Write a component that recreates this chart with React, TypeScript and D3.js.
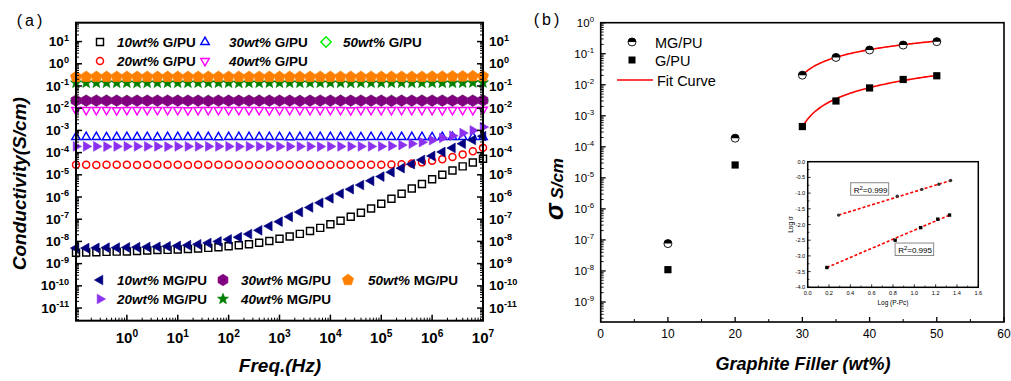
import React from 'react';
import * as d3 from 'd3';

const W = 1011, H = 381;
const FONT = "'Liberation Sans', Arial, Helvetica, sans-serif";

// ---------------- Panel (a) data : log10(frequency) and log10(conductivity) ----------------
const logFreq = [-1.0,-0.8,-0.6,-0.4,-0.2,0.0,0.2,0.4,0.6,0.8,1.0,1.2,1.4,1.6,1.8,2.0,2.2,2.4,2.6,2.8,3.0,3.2,3.4,3.6,3.8,4.0,4.2,4.4,4.6,4.8,5.0,5.2,5.4,5.6,5.8,6.0,6.2,6.4,6.6,6.8,7.0];

const gpu10 = [-8.51,-8.50,-8.49,-8.47,-8.46,-8.45,-8.43,-8.41,-8.39,-8.38,-8.36,-8.34,-8.32,-8.29,-8.26,-8.22,-8.17,-8.13,-8.06,-7.98,-7.88,-7.78,-7.66,-7.53,-7.39,-7.23,-7.07,-6.89,-6.71,-6.52,-6.30,-6.08,-5.85,-5.62,-5.41,-5.20,-5.00,-4.81,-4.62,-4.45,-4.28];
const gpu20 = [-4.55,-4.55,-4.56,-4.55,-4.55,-4.55,-4.56,-4.55,-4.55,-4.55,-4.55,-4.56,-4.55,-4.55,-4.55,-4.55,-4.55,-4.56,-4.55,-4.55,-4.55,-4.55,-4.55,-4.55,-4.56,-4.55,-4.55,-4.55,-4.55,-4.55,-4.55,-4.54,-4.52,-4.49,-4.44,-4.37,-4.30,-4.20,-4.08,-3.94,-3.78];
const gpu30 = [-3.30,-3.30,-3.30,-3.31,-3.30,-3.30,-3.30,-3.30,-3.31,-3.30,-3.30,-3.30,-3.30,-3.30,-3.31,-3.30,-3.30,-3.30,-3.30,-3.30,-3.30,-3.31,-3.30,-3.30,-3.30,-3.30,-3.30,-3.30,-3.31,-3.30,-3.30,-3.30,-3.30,-3.30,-3.30,-3.31,-3.30,-3.30,-3.30,-3.30,-3.30];
const gpu40 = [-2.08,-2.08,-2.08,-2.08,-2.09,-2.08,-2.08,-2.08,-2.08,-2.08,-2.08,-2.09,-2.08,-2.08,-2.08,-2.08,-2.08,-2.08,-2.08,-2.09,-2.08,-2.08,-2.08,-2.08,-2.08,-2.08,-2.08,-2.09,-2.08,-2.08,-2.08,-2.08,-2.08,-2.08,-2.08,-2.08,-2.09,-2.08,-2.08,-2.08,-2.07];
const gpu50 = [-1.66,-1.66,-1.66,-1.65,-1.66,-1.66,-1.66,-1.66,-1.66,-1.66,-1.65,-1.66,-1.66,-1.66,-1.66,-1.66,-1.66,-1.66,-1.65,-1.66,-1.66,-1.66,-1.66,-1.66,-1.66,-1.66,-1.65,-1.66,-1.66,-1.66,-1.66,-1.66,-1.66,-1.66,-1.65,-1.66,-1.66,-1.66,-1.66,-1.66,-1.65];
const mgpu10 = [-8.30,-8.30,-8.29,-8.28,-8.28,-8.27,-8.26,-8.25,-8.24,-8.22,-8.20,-8.17,-8.13,-8.07,-8.00,-7.91,-7.81,-7.67,-7.50,-7.31,-7.11,-6.89,-6.68,-6.47,-6.26,-6.06,-5.85,-5.65,-5.46,-5.27,-5.08,-4.88,-4.70,-4.52,-4.33,-4.15,-3.97,-3.79,-3.60,-3.43,-3.26];
const mgpu20 = [-3.72,-3.72,-3.72,-3.73,-3.72,-3.72,-3.72,-3.72,-3.72,-3.73,-3.72,-3.72,-3.72,-3.72,-3.72,-3.72,-3.73,-3.72,-3.72,-3.72,-3.72,-3.72,-3.72,-3.72,-3.73,-3.72,-3.72,-3.72,-3.72,-3.72,-3.72,-3.70,-3.66,-3.60,-3.53,-3.44,-3.34,-3.24,-3.12,-3.00,-2.85];
const mgpu30 = [-1.66,-1.66,-1.66,-1.66,-1.66,-1.67,-1.66,-1.66,-1.66,-1.66,-1.66,-1.66,-1.66,-1.67,-1.66,-1.66,-1.66,-1.66,-1.66,-1.66,-1.66,-1.66,-1.67,-1.66,-1.66,-1.66,-1.66,-1.66,-1.66,-1.66,-1.66,-1.67,-1.66,-1.66,-1.66,-1.66,-1.66,-1.66,-1.66,-1.66,-1.65];
const mgpu40 = [-0.86,-0.86,-0.86,-0.86,-0.86,-0.86,-0.87,-0.86,-0.86,-0.86,-0.86,-0.86,-0.86,-0.86,-0.86,-0.86,-0.87,-0.86,-0.86,-0.86,-0.86,-0.86,-0.86,-0.86,-0.86,-0.86,-0.86,-0.87,-0.86,-0.86,-0.86,-0.86,-0.86,-0.86,-0.86,-0.86,-0.86,-0.86,-0.86,-0.85,-0.85];
const mgpu50 = [-0.59,-0.59,-0.59,-0.59,-0.59,-0.59,-0.59,-0.59,-0.59,-0.59,-0.59,-0.59,-0.59,-0.59,-0.59,-0.59,-0.59,-0.59,-0.59,-0.59,-0.59,-0.59,-0.59,-0.59,-0.59,-0.59,-0.59,-0.59,-0.59,-0.59,-0.59,-0.59,-0.59,-0.59,-0.59,-0.58,-0.58,-0.57,-0.57,-0.56,-0.56];

const decadesA = [1, 0, -1, -2, -3, -4, -5, -6, -7, -8, -9, -10, -11];
const freqDecades = [0, 1, 2, 3, 4, 5, 6, 7];

// ---------------- Panel (b) data ----------------
const fillerWt = [10, 20, 30, 35, 40, 45, 50];
const sigmaMG = [7.6e-8, 1.9e-4, 0.0204, 0.0759, 0.132, 0.19, 0.245];
const sigmaG = [1.1e-8, 2.6e-5, 4.5e-4, 3.0e-3, 7.9e-3, 0.0148, 0.0195];
const fitMG = { pc: 28.05, logA: -2.0, t: 1.05 };
const fitG = { pc: 28.5, logA: -3.63, t: 1.45 };
const fitRange = [30, 50];
const decadesB = [0, -1, -2, -3, -4, -5, -6, -7, -8, -9];
const wtTicks = [0, 10, 20, 30, 40, 50, 60];

// inset: log(P-Pc) vs log sigma
const insetMGx = [0.29, 0.84, 1.07, 1.23, 1.34];
const insetMGy = [-1.70, -1.10, -0.88, -0.72, -0.60];
const insetGx = [0.18, 0.82, 1.06, 1.22, 1.33];
const insetGy = [-3.37, -2.50, -2.10, -1.83, -1.70];
const insetXTicks = [0.0, 0.2, 0.4, 0.6, 0.8, 1.0, 1.2, 1.4, 1.6];
const insetYTicks = [0.0, -0.5, -1.0, -1.5, -2.0, -2.5, -3.0, -3.5, -4.0];
const r2MG = '0.999';
const r2G = '0.995';

// ---------------- helpers ----------------
function regPoly(n: number, r: number, rot: number) {
  const pts: string[] = [];
  for (let i = 0; i < n; i++) {
    const a = rot + (i * 2 * Math.PI) / n;
    pts.push(`${(r * Math.cos(a)).toFixed(2)},${(r * Math.sin(a)).toFixed(2)}`);
  }
  return 'M' + pts.join('L') + 'Z';
}
function starPath(r: number, ri: number) {
  const pts: string[] = [];
  for (let i = 0; i < 10; i++) {
    const a = -Math.PI / 2 + (i * Math.PI) / 5;
    const rr = i % 2 === 0 ? r : ri;
    pts.push(`${(rr * Math.cos(a)).toFixed(2)},${(rr * Math.sin(a)).toFixed(2)}`);
  }
  return 'M' + pts.join('L') + 'Z';
}
const SHAPES: Record<string, string> = {
  square: 'M-3.5,-3.5H3.5V3.5H-3.5Z',
  triUp: regPoly(3, 4.9, -Math.PI / 2),
  triDown: regPoly(3, 4.9, Math.PI / 2),
  triLeft: regPoly(3, 5.6, Math.PI),
  triRight: regPoly(3, 5.6, 0),
  diamond: regPoly(4, 5.2, -Math.PI / 2),
  hexagon: regPoly(6, 5.7, -Math.PI / 2),
  pentagon: regPoly(5, 5.9, -Math.PI / 2),
  star: starPath(5.8, 2.5),
};

function Marker({ shape, x, y, color, filled }: any) {
  if (shape === 'circle') {
    return <circle cx={x} cy={y} r={3.5} fill="none" stroke={color} strokeWidth={1.5} />;
  }
  return (
    <path d={SHAPES[shape]} transform={`translate(${x},${y})`}
      fill={filled ? color : 'none'} stroke={color} strokeWidth={filled ? 0.6 : 1.45} strokeLinejoin="miter" />
  );
}

function Pow10({ x, y, exp, anchor, size, weight }: any) {
  return (
    <text x={x} y={y} textAnchor={anchor} fontSize={size} fontWeight={weight} fontFamily={FONT} fill="#000">
      10<tspan dy={-size * 0.42} fontSize={size * 0.68}>{exp}</tspan>
    </text>
  );
}

const seriesG = [
  { pct: '10wt%', name: 'G/PU', vals: gpu10, shape: 'square', color: '#000000', filled: false },
  { pct: '20wt%', name: 'G/PU', vals: gpu20, shape: 'circle', color: '#ff0000', filled: false },
  { pct: '30wt%', name: 'G/PU', vals: gpu30, shape: 'triUp', color: '#0000ff', filled: false },
  { pct: '40wt%', name: 'G/PU', vals: gpu40, shape: 'triDown', color: '#ff00ff', filled: false },
  { pct: '50wt%', name: 'G/PU', vals: gpu50, shape: 'diamond', color: '#00f000', filled: false },
];
const seriesMG = [
  { pct: '10wt%', name: 'MG/PU', vals: mgpu10, shape: 'triLeft', color: '#000080', filled: true },
  { pct: '20wt%', name: 'MG/PU', vals: mgpu20, shape: 'triRight', color: '#8c30f0', filled: true },
  { pct: '30wt%', name: 'MG/PU', vals: mgpu30, shape: 'hexagon', color: '#800080', filled: true },
  { pct: '40wt%', name: 'MG/PU', vals: mgpu40, shape: 'star', color: '#008000', filled: true },
  { pct: '50wt%', name: 'MG/PU', vals: mgpu50, shape: 'pentagon', color: '#ff8000', filled: true },
];

function PanelA() {
  const L = 76, R = 483, T = 22.7, B = 320.7;
  const x = d3.scaleLog().domain([0.1, 1e7]).range([L, R]);
  const y = d3.scaleLog().domain([Math.pow(10, -11.57), Math.pow(10, 1.85)]).range([B, T]);

  const yMinor: number[] = [];
  for (let d = -12; d <= 1; d++) for (let k = 2; k <= 9; k++) {
    const v = k * Math.pow(10, d);
    if (v > y.domain()[0] && v < y.domain()[1]) yMinor.push(v);
  }
  const xMinor: number[] = [];
  for (let d = -1; d <= 6; d++) for (let k = 2; k <= 9; k++) xMinor.push(k * Math.pow(10, d));

  const legendTop = [
    { s: seriesG[0], mx: 100, tx: 117, cy: 42 },
    { s: seriesG[1], mx: 100, tx: 117, cy: 61 },
    { s: seriesG[2], mx: 205, tx: 229, cy: 42 },
    { s: seriesG[3], mx: 205, tx: 229, cy: 61 },
    { s: seriesG[4], mx: 326, tx: 343, cy: 42 },
  ];
  const legendBot = [
    { s: seriesMG[0], mx: 100, tx: 117, cy: 280 },
    { s: seriesMG[1], mx: 100, tx: 117, cy: 299 },
    { s: seriesMG[2], mx: 223, tx: 241, cy: 280 },
    { s: seriesMG[3], mx: 223, tx: 241, cy: 299 },
    { s: seriesMG[4], mx: 348, tx: 368, cy: 280 },
  ];

  return (
    <g>
      {[...seriesG, ...seriesMG].map((s, si) => (
        <g key={si}>
          {s.vals.map((v, i) => (
            <Marker key={i} shape={s.shape} x={x(Math.pow(10, logFreq[i]))} y={y(Math.pow(10, v))} color={s.color} filled={s.filled} />
          ))}
        </g>
      ))}
      <rect x={L} y={T} width={R - L} height={B - T} fill="none" stroke="#000" strokeWidth={2} />
      {decadesA.map((d) => (
        <g key={'yt' + d}>
          <line x1={L} x2={L + 6} y1={y(Math.pow(10, d))} y2={y(Math.pow(10, d))} stroke="#000" strokeWidth={1.5} />
          <line x1={R} x2={R - 6} y1={y(Math.pow(10, d))} y2={y(Math.pow(10, d))} stroke="#000" strokeWidth={1.5} />
          <Pow10 x={69} y={y(Math.pow(10, d)) + 4.6} exp={String(d)} anchor="end" size={13.5} weight="bold" />
          <Pow10 x={489} y={y(Math.pow(10, d)) + 4.6} exp={String(d)} anchor="start" size={13.5} weight="bold" />
        </g>
      ))}
      {yMinor.map((v, i) => (
        <g key={'ym' + i}>
          <line x1={L} x2={L + 3} y1={y(v)} y2={y(v)} stroke="#000" strokeWidth={1} />
          <line x1={R} x2={R - 3} y1={y(v)} y2={y(v)} stroke="#000" strokeWidth={1} />
        </g>
      ))}
      {freqDecades.map((d) => (
        <g key={'xt' + d}>
          <line x1={x(Math.pow(10, d))} x2={x(Math.pow(10, d))} y1={B} y2={B - 6} stroke="#000" strokeWidth={1.5} />
          <Pow10 x={x(Math.pow(10, d))} y={343} exp={String(d)} anchor="middle" size={15} weight="bold" />
        </g>
      ))}
      {xMinor.map((v, i) => (
        <line key={'xm' + i} x1={x(v)} x2={x(v)} y1={B} y2={B - 3} stroke="#000" strokeWidth={1} />
      ))}
      {[...legendTop, ...legendBot].map((it, i) => (
        <g key={'lg' + i}>
          <Marker shape={it.s.shape} x={it.mx} y={it.cy} color={it.s.color} filled={it.s.filled} />
          <text x={it.tx} y={it.cy + 4.7} fontSize={13.5} fontWeight="bold" fontFamily={FONT}>
            <tspan fontStyle="italic">{it.s.pct}</tspan> {it.s.name}
          </text>
        </g>
      ))}
      <text x={280} y={372} textAnchor="middle" fontSize={19} fontWeight="bold" fontStyle="italic" fontFamily={FONT}>Freq.(Hz)</text>
      <text transform={`translate(26,${(T + B) / 2 + 12}) rotate(-90)`} textAnchor="middle" fontSize={19} fontWeight="bold" fontStyle="italic" fontFamily={FONT}>Conductivity(S/cm)</text>
      <text x={31} y={26} textAnchor="middle" fontSize={16} fontFamily={FONT} letterSpacing={3}>(a)</text>
    </g>
  );
}

function HalfCircle({ x, y, r }: any) {
  return (
    <g transform={`translate(${x},${y})`}>
      <circle r={r} fill="#fff" stroke="#000" strokeWidth={0.9} />
      <path d={`M${-r},0A${r},${r} 0 0 1 ${r},0Z`} fill="#000" />
    </g>
  );
}

function PanelB() {
  const L = 600.7, R = 1004, T = 22.7, B = 322;
  const x = d3.scaleLinear().domain([0, 60]).range([L, R]);
  const y = d3.scaleLog().domain([Math.pow(10, -9.645), 1]).range([B, T]);
  const yMinor: number[] = [];
  for (let d = -10; d <= -1; d++) for (let k = 2; k <= 9; k++) {
    const v = k * Math.pow(10, d);
    if (v > y.domain()[0] && v < 1) yMinor.push(v);
  }
  const fitPts = d3.range(fitRange[0], fitRange[1] + 0.001, 0.2);
  const fitLine = (f: any) => d3.line<number>()
    .x((p) => x(p))
    .y((p) => y(Math.pow(10, f.logA + f.t * Math.log10(p - f.pc))))(fitPts) as string;

  const iL = 807.7, iR = 978.3, iT = 161.7, iB = 287.3;
  const ix = d3.scaleLinear().domain([0, 1.6]).range([iL, iR]);
  const iy = d3.scaleLinear().domain([-4, 0]).range([iB, iT]);
  const insetLine = (xs: number[], ys: number[]) => {
    const n = xs.length;
    const slope = (ys[n - 1] - ys[0]) / (xs[n - 1] - xs[0]);
    return d3.line<number>().x((v) => ix(v)).y((v) => iy(ys[0] + slope * (v - xs[0])))([xs[0], xs[n - 1]]) as string;
  };
  const fsz = 5.6;

  return (
    <g>
      <path d={fitLine(fitMG)} fill="none" stroke="#ff0000" strokeWidth={1.6} />
      <path d={fitLine(fitG)} fill="none" stroke="#ff0000" strokeWidth={1.6} />
      {fillerWt.map((p, i) => (
        <g key={'p' + i}>
          <HalfCircle x={x(p)} y={y(sigmaMG[i])} r={4} />
          <rect x={x(p) - 3.6} y={y(sigmaG[i]) - 3.6} width={7.2} height={7.2} fill="#000" />
        </g>
      ))}
      <rect x={L} y={T} width={R - L} height={B - T} fill="none" stroke="#000" strokeWidth={1.6} />
      {decadesB.map((d) => (
        <g key={'by' + d}>
          <line x1={L} x2={L + 5} y1={y(Math.pow(10, d))} y2={y(Math.pow(10, d))} stroke="#000" strokeWidth={1.3} />
          <Pow10 x={594} y={y(Math.pow(10, d)) + 4} exp={String(d)} anchor="end" size={11.5} weight="normal" />
        </g>
      ))}
      {yMinor.map((v, i) => (
        <line key={'bym' + i} x1={L} x2={L + 3} y1={y(v)} y2={y(v)} stroke="#000" strokeWidth={0.9} />
      ))}
      {wtTicks.map((t) => (
        <g key={'bx' + t}>
          <line x1={x(t)} x2={x(t)} y1={B} y2={B - 5} stroke="#000" strokeWidth={1.3} />
          <text x={x(t)} y={338} textAnchor="middle" fontSize={12} fontFamily={FONT}>{t}</text>
        </g>
      ))}
      {wtTicks.slice(0, -1).map((t) => (
        <line key={'bxm' + t} x1={x(t + 5)} x2={x(t + 5)} y1={B} y2={B - 3} stroke="#000" strokeWidth={1} />
      ))}
      <HalfCircle x={632} y={42} r={4} />
      <text x={655} y={47.5} fontSize={14.5} fontFamily={FONT}>MG/PU</text>
      <rect x={628.5} y={56.5} width={7} height={7} fill="#000" />
      <text x={655} y={65.5} fontSize={14.5} fontFamily={FONT}>G/PU</text>
      <line x1={617} x2={653} y1={80} y2={80} stroke="#ff0000" strokeWidth={1.6} />
      <text x={657} y={85.5} fontSize={14.5} fontFamily={FONT}>Fit Curve</text>
      <text x={803} y={370} textAnchor="middle" fontSize={18} fontWeight="bold" fontStyle="italic" fontFamily={FONT}>Graphite Filler (wt%)</text>
      <text transform={`translate(563,189) rotate(-90)`} textAnchor="middle" fontWeight="bold" fontStyle="italic" fontFamily={FONT}>
        <tspan fontSize={25}>σ</tspan><tspan fontSize={17}> S/cm</tspan>
      </text>
      <text x={548} y={25} textAnchor="middle" fontSize={16} fontFamily={FONT} letterSpacing={3}>(b)</text>

      <rect x={iL} y={iT} width={iR - iL} height={iB - iT} fill="#fff" stroke="#000" strokeWidth={1.5} />
      {insetXTicks.map((t, i) => (
        <g key={'ix' + i}>
          <line x1={ix(t)} x2={ix(t)} y1={iB} y2={iB - 3} stroke="#000" strokeWidth={0.8} />
          <text x={ix(t)} y={iB + 7.5} textAnchor="middle" fontSize={fsz} fontFamily={FONT}>{t.toFixed(1)}</text>
        </g>
      ))}
      {insetXTicks.slice(0, -1).map((t, i) => (
        <line key={'ixm' + i} x1={ix(t + 0.1)} x2={ix(t + 0.1)} y1={iB} y2={iB - 1.8} stroke="#000" strokeWidth={0.7} />
      ))}
      {insetYTicks.map((t, i) => (
        <g key={'iy' + i}>
          <line x1={iL} x2={iL + 3} y1={iy(t)} y2={iy(t)} stroke="#000" strokeWidth={0.8} />
          <text x={iL - 2.5} y={iy(t) + 2} textAnchor="end" fontSize={fsz} fontFamily={FONT}>{t.toFixed(1)}</text>
        </g>
      ))}
      {insetYTicks.slice(0, -1).map((t, i) => (
        <line key={'iym' + i} x1={iL} x2={iL + 1.8} y1={iy(t - 0.25)} y2={iy(t - 0.25)} stroke="#000" strokeWidth={0.7} />
      ))}
      <text x={(iL + iR) / 2} y={iB + 18} textAnchor="middle" fontSize={6.5} fontFamily={FONT}>Log (P-Pc)</text>
      <text transform={`translate(${iL - 15},${(iT + iB) / 2}) rotate(-90)`} textAnchor="middle" fontSize={6.5} fontFamily={FONT}>Log σ</text>
      <path d={insetLine(insetMGx, insetMGy)} fill="none" stroke="#ff0000" strokeWidth={1.6} strokeDasharray="3,2" />
      <path d={insetLine(insetGx, insetGy)} fill="none" stroke="#ff0000" strokeWidth={1.6} strokeDasharray="3,2" />
      {insetMGx.map((v, i) => (
        <circle key={'imc' + i} cx={ix(v)} cy={iy(insetMGy[i])} r={1.7} fill="#333" />
      ))}
      {insetGx.map((v, i) => (
        <rect key={'igr' + i} x={ix(v) - 1.7} y={iy(insetGy[i]) - 1.7} width={3.4} height={3.4} fill="#000" />
      ))}
      <rect x={ix(0.403)} y={iy(-0.67)} width={38} height={12.5} fill="#fff" stroke="#888" strokeWidth={1} />
      <text x={ix(0.403) + 3} y={iy(-0.67) + 10} fontSize={8} fontFamily={FONT}>R<tspan dy={-3} fontSize={6}>2</tspan><tspan dy={3}>={r2MG}</tspan></text>
      <rect x={ix(0.82)} y={iy(-2.59)} width={38.5} height={12.5} fill="#fff" stroke="#888" strokeWidth={1} />
      <text x={ix(0.82) + 3} y={iy(-2.59) + 10} fontSize={8} fontFamily={FONT}>R<tspan dy={-3} fontSize={6}>2</tspan><tspan dy={3}>={r2G}</tspan></text>
    </g>
  );
}

export default function App() {
  return (
    <svg width={W} height={H} viewBox={`0 0 ${W} ${H}`} style={{ position: 'absolute', left: 0, top: 0, background: '#fff' }}>
      <rect width={W} height={H} fill="#fff" />
      <PanelA />
      <PanelB />
    </svg>
  );
}
